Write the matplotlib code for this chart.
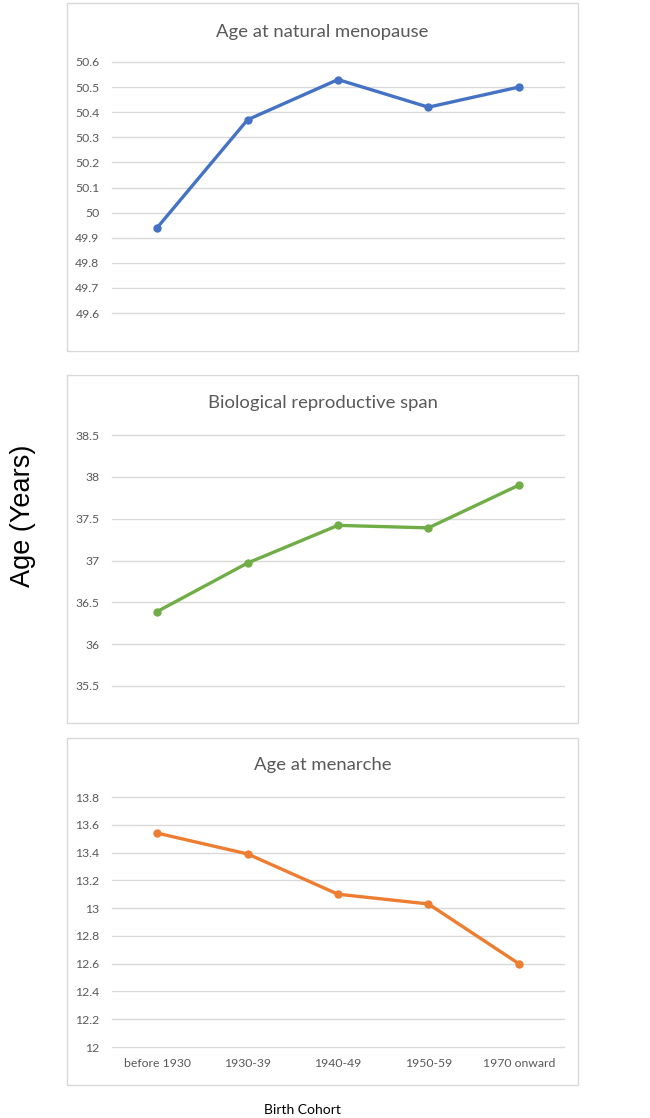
import numpy as np
import matplotlib
matplotlib.use('Agg')
import matplotlib.pyplot as plt
from matplotlib.patches import Rectangle

# Data
cohorts = ['before 1930', '1930-39', '1940-49', '1950-59', '1970 onward']
menopause = [49.94, 50.37, 50.53, 50.42, 50.50]
span = [36.39, 36.97, 37.42, 37.39, 37.90]
menarche = [13.54, 13.39, 13.10, 13.03, 12.60]

titles = ['Age at natural menopause', 'Biological reproductive span', 'Age at menarche']
yticks_list = [
    [49.6, 49.7, 49.8, 49.9, 50.0, 50.1, 50.2, 50.3, 50.4, 50.5, 50.6],
    [35.5, 36.0, 36.5, 37.0, 37.5, 38.0, 38.5],
    [12.0, 12.2, 12.4, 12.6, 12.8, 13.0, 13.2, 13.4, 13.6, 13.8],
]
ytick_labels = [
    ['49.6', '49.7', '49.8', '49.9', '50', '50.1', '50.2', '50.3', '50.4', '50.5', '50.6'],
    ['35.5', '36', '36.5', '37', '37.5', '38', '38.5'],
    ['12', '12.2', '12.4', '12.6', '12.8', '13', '13.2', '13.4', '13.6', '13.8'],
]
series = [menopause, span, menarche]
colors = ['#4472C4', '#70AD47', '#ED7D31']

W, H = 650, 1118
fig = plt.figure(figsize=(W / 100, H / 100), dpi=100)
fig.patch.set_facecolor('white')

def fx(px):
    return px / W

def fy(py):
    return 1 - py / H

# layout in pixels: (box top, box bottom, plot top, plot bottom, title y)
layout = [
    (3, 351, 62, 313, 32),
    (375, 723, 435, 686, 403),
    (738, 1085, 797, 1047, 765),
]
box_l, box_r = 67, 578
ax_l, ax_r = 112, 564

for k in range(3):
    btop, bbot, ptop, pbot, ty = layout[k]
    fig.patches.append(Rectangle((fx(box_l), fy(bbot)), fx(box_r - box_l), (bbot - btop) / H,
                                 transform=fig.transFigure, fill=False,
                                 edgecolor='#D9D9D9', linewidth=1.0, zorder=0))
    ax = fig.add_axes([fx(ax_l), fy(pbot), fx(ax_r - ax_l), (pbot - ptop) / H])
    ax.set_facecolor('none')
    x = np.arange(len(cohorts))
    ax.plot(x, series[k], color=colors[k], linewidth=2.4, marker='o', markersize=5,
            solid_capstyle='round', zorder=3)
    ax.set_xlim(-0.5, len(cohorts) - 0.5)
    ax.set_ylim(yticks_list[k][0], yticks_list[k][-1])
    ax.set_yticks(yticks_list[k])
    ax.set_yticklabels(ytick_labels[k])
    ax.grid(axis='y', color='#D9D9D9', linewidth=1.0)
    for gl in ax.get_ygridlines():
        gl.set_clip_on(False)
    ax.set_axisbelow(True)
    for s in ax.spines.values():
        s.set_visible(False)
    ax.tick_params(axis='both', length=0, labelsize=8.8, labelcolor='#595959', pad=9)
    for lab in ax.get_yticklabels() + ax.get_xticklabels():
        lab.set_fontfamily('Lato')
    if k == 2:
        ax.set_xticks(x)
        ax.set_xticklabels(cohorts, fontfamily='Lato')
        ax.tick_params(axis='x', pad=8)
    else:
        ax.set_xticks([])
    fig.text(fx((box_l + box_r) / 2), fy(ty), titles[k], ha='center', va='center',
             fontsize=13.3, color='#595959', fontfamily='Lato')

fig.text(fx(23), fy(516), 'Age (Years)', rotation=90, ha='center', va='center',
         fontsize=19.5, color='black', fontfamily='Liberation Sans')
fig.text(fx(302), fy(1110), 'Birth Cohort', ha='center', va='center',
         fontsize=10, color='black', fontfamily='Lato')

fig.savefig('out.png', dpi=100, facecolor='white')
